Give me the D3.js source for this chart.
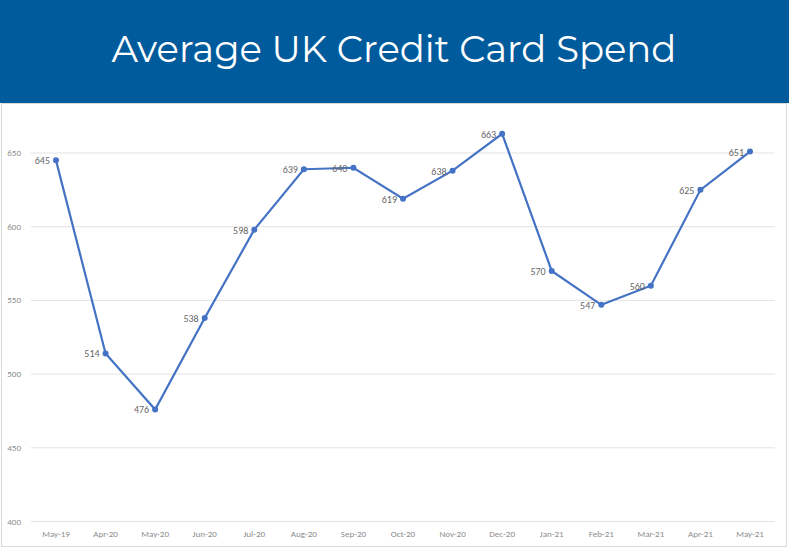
<!DOCTYPE html><html><head><meta charset="utf-8">
<script src="https://cdn.jsdelivr.net/npm/d3@7"></script>
<style>body{margin:0;background:#fff;font-family:Calibri,Carlito,"Open Sans",sans-serif}</style></head><body>
<svg id="c" width="789" height="550"></svg>
<script>
const categories=["May-19","Apr-20","May-20","Jun-20","Jul-20","Aug-20","Sep-20","Oct-20","Nov-20","Dec-20","Jan-21","Feb-21","Mar-21","Apr-21","May-21"];
const values=[645,514,476,538,598,639,640,619,638,663,570,547,560,625,651];
const yTicks=[400,450,500,550,600,650];
const svg=d3.select("#c");
svg.append("rect").attr("x",0).attr("y",0).attr("width",789).attr("height",103).attr("fill","#005b9d");
svg.append("text").attr("x",394).attr("y",62).attr("text-anchor","middle").attr("fill","#fff")
 .attr("font-family","Montserrat,Lato,'Open Sans',sans-serif").attr("font-size",37).text("Average UK Credit Card Spend");
svg.append("rect").attr("x",1.5).attr("y",103.5).attr("width",785).attr("height",443).attr("fill","none").attr("stroke","#d9d9d9");
const x=d3.scalePoint().domain(categories).range([56,750]);
const y=d3.scaleLinear().domain([400,650]).range([521.5,153]);
const g=svg.append("g");
yTicks.forEach(t=>{
 g.append("line").attr("x1",31).attr("x2",775).attr("y1",y(t)).attr("y2",y(t)).attr("stroke","#e3e3e3");
 g.append("text").attr("x",21).attr("y",y(t)+3).attr("text-anchor","end").attr("font-size",9).attr("fill","#8c8c8c").text(t);
});
categories.forEach(c=>g.append("text").attr("x",x(c)).attr("y",537).attr("text-anchor","middle").attr("font-size",9).attr("fill","#8c8c8c").text(c));
const line=d3.line().x((d,i)=>x(categories[i])).y(d=>y(d));
g.append("path").datum(values).attr("d",line).attr("fill","none").attr("stroke","#4472c4").attr("stroke-width",2.2);
g.selectAll("circle").data(values).join("circle").attr("cx",(d,i)=>x(categories[i])).attr("cy",d=>y(d)).attr("r",3).attr("fill","#4472c4");
g.selectAll(".lbl").data(values).join("text").attr("x",(d,i)=>x(categories[i])-6).attr("y",d=>y(d)+4)
 .attr("text-anchor","end").attr("font-size",10).attr("fill","#666").text(d=>d);
</script></body></html>
